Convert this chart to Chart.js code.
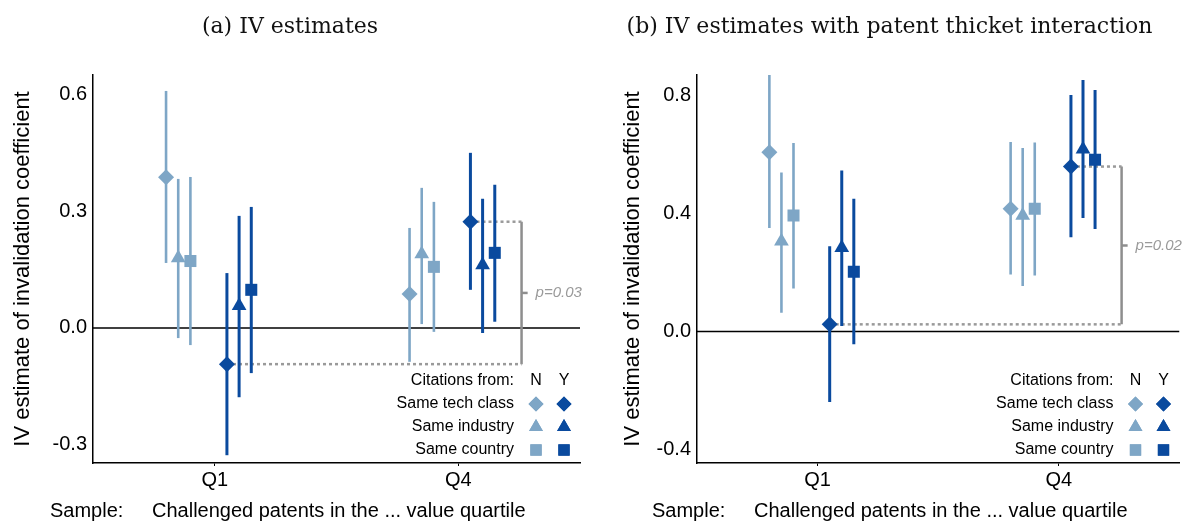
<!DOCTYPE html>
<html>
<head>
<meta charset="utf-8">
<script src="https://cdn.jsdelivr.net/npm/chart.js@4.4.0/dist/chart.umd.min.js"></script>
<style>
  body { margin: 0; background: #fff; }
  #wrap { position: relative; width: 1188px; height: 523px; }
  #wrap canvas { position: absolute; top: 0; }
</style>
</head>
<body>
<div id="wrap">
  <canvas id="chartA" width="594" height="523" style="left:0"></canvas>
  <canvas id="chartB" width="594" height="523" style="left:594px"></canvas>
</div>
<script>
// Data
const quartiles = ['Q1', 'Q4'];
const quartilePos = [1, 3];
const rowNames = ['Same tech class', 'Same industry', 'Same country'];
const citeGroups = ['N', 'Y'];

// rows: tech N, industry N, country N, tech Y, industry Y, country Y / columns: Q1, Q4
const estA = [[0.387, 0.087], [0.180, 0.190], [0.172, 0.157], [-0.093, 0.273], [0.057, 0.162], [0.098, 0.193]];
const loA  = [[0.167, -0.087], [-0.026, 0.010], [-0.044, -0.010], [-0.327, 0.098], [-0.178, -0.013], [-0.116, 0.016]];
const hiA  = [[0.609, 0.257], [0.383, 0.360], [0.388, 0.324], [0.141, 0.450], [0.288, 0.332], [0.311, 0.368]];

const estB = [[0.609, 0.417], [0.306, 0.394], [0.394, 0.417], [0.024, 0.560], [0.284, 0.619], [0.203, 0.583]];
const loB  = [[0.351, 0.193], [0.063, 0.154], [0.146, 0.190], [-0.240, 0.320], [0.018, 0.385], [-0.044, 0.348]];
const hiB  = [[0.880, 0.643], [0.540, 0.623], [0.640, 0.642], [0.289, 0.803], [0.547, 0.854], [0.451, 0.820]];

const ticksA = [-0.3, 0, 0.3, 0.6];
const ticksB = [-0.4, 0, 0.4, 0.8];
const pValA = 'p=0.03';
const pValB = 'p=0.02';

// Styles
const LIGHT = '#7ea6c6';
const DARK = '#0a4a9e';
const GREY = '#8e8e8e';
const shapes = ['rectRot', 'triangle', 'rect'];
const radii = [8, 8.5, 8.5];
const offsets = [-0.4, -0.3, -0.2, 0.1, 0.2, 0.3];
const SANS = "'Liberation Sans', Arial, sans-serif";
const SERIF = "'DejaVu Serif', serif";

Chart.defaults.color = '#000';

const extras = {
  id: 'extras',
  afterDraw(chart, args, opts) {
    const { ctx, chartArea: ca, scales } = chart;
    const xs = scales.x, ys = scales.y;
    ctx.save();

    // p-value label next to the bracket
    const mid = (opts.est[3][0] + opts.est[3][1]) / 2;
    ctx.font = 'italic 15px ' + SANS;
    ctx.fillStyle = '#9a9a9a';
    ctx.textAlign = 'left';
    ctx.textBaseline = 'middle';
    ctx.fillText(opts.pText, xs.getPixelForValue(opts.bracketX) + 14, ys.getPixelForValue(mid));

    // legend
    const colX = [ca.right - 44, ca.right - 16];
    const rowY = [ca.bottom - 82, ca.bottom - 59, ca.bottom - 36, ca.bottom - 13];
    ctx.font = '16px ' + SANS;
    ctx.fillStyle = '#000';
    ctx.textAlign = 'right';
    ctx.fillText('Citations from:', ca.right - 66, rowY[0]);
    ctx.textAlign = 'center';
    citeGroups.forEach((g, j) => ctx.fillText(g, colX[j], rowY[0]));
    rowNames.forEach((name, r) => {
      ctx.textAlign = 'right';
      ctx.fillStyle = '#000';
      ctx.fillText(name, ca.right - 66, rowY[r + 1]);
      [LIGHT, DARK].forEach((c, j) => {
        ctx.fillStyle = c;
        Chart.helpers.drawPoint(ctx, { pointStyle: shapes[r], radius: radii[r] - 0.5, rotation: 0, borderWidth: 0 }, colX[j], rowY[r + 1]);
        ctx.fill();
      });
    });

    // sample caption
    ctx.font = '20px ' + SANS;
    ctx.fillStyle = '#000';
    ctx.textAlign = 'left';
    ctx.fillText('Sample:', opts.sampleX, 511);
    ctx.fillText('Challenged patents in the ... value quartile', opts.sampleX + 102, 511);
    ctx.restore();
  }
};

function makeChart(id, p) {
  const datasets = [];
  const bx = 3.52;

  // zero line
  datasets.push({ data: [{ x: 0, y: 0 }, { x: 4, y: 0 }], showLine: true, borderColor: '#000', borderWidth: 1.5, pointRadius: 0, order: 5 });

  // bracket between Y tech-class estimates in Q1 and Q4
  const y1 = p.est[3][0], y4 = p.est[3][1];
  const mid = (y1 + y4) / 2;
  quartilePos.forEach((q, i) => {
    datasets.push({
      data: [{ x: q + offsets[3] + 0.05, y: p.est[3][i] }, { x: bx, y: p.est[3][i] }],
      showLine: true, borderColor: '#9a9a9a', borderWidth: 2.5, borderDash: [3, 3], pointRadius: 0, order: 4
    });
  });
  datasets.push({ data: [{ x: bx, y: y4 }, { x: bx, y: y1 }], showLine: true, borderColor: GREY, borderWidth: 2.5, pointRadius: 0, order: 4 });
  datasets.push({ data: [{ x: bx, y: mid }, { x: bx + 0.05, y: mid }], showLine: true, borderColor: GREY, borderWidth: 2.5, pointRadius: 0, order: 4 });

  // confidence intervals and point estimates
  p.est.forEach((row, r) => {
    const color = r < 3 ? LIGHT : DARK;
    quartilePos.forEach((q, i) => {
      datasets.push({
        data: [{ x: q + offsets[r], y: p.lo[r][i] }, { x: q + offsets[r], y: p.hi[r][i] }],
        showLine: true, borderColor: color, borderWidth: r < 3 ? 2.6 : 3, pointRadius: 0, order: 2
      });
    });
    datasets.push({
      data: quartilePos.map((q, i) => ({ x: q + offsets[r], y: row[i] })),
      pointStyle: shapes[r % 3], pointRadius: radii[r % 3], pointBackgroundColor: color,
      pointBorderWidth: 0, order: 0
    });
  });

  return new Chart(document.getElementById(id), {
    type: 'scatter',
    data: { datasets },
    options: {
      responsive: false,
      animation: false,
      events: [],
      layout: { padding: { left: 0, right: p.padRight, top: 0, bottom: 0 } },
      plugins: {
        legend: { display: false },
        tooltip: { enabled: false },
        title: {
          display: true, text: p.title, color: '#111',
          font: { family: SERIF, size: 22, weight: 'normal' },
          padding: { top: 13.8, bottom: 34.8 }
        },
        extras: { est: p.est, pText: p.pText, bracketX: bx, sampleX: p.sampleX }
      },
      scales: {
        x: {
          type: 'linear', min: 0, max: 4,
          afterBuildTicks: s => { s.ticks = quartilePos.map(v => ({ value: v })); },
          afterFit: s => { s.height = 60; },
          ticks: { callback: v => quartiles[quartilePos.indexOf(v)], font: { family: SANS, size: 20 }, padding: 2, maxRotation: 0 },
          grid: { display: true, drawOnChartArea: false, drawTicks: true, tickLength: 3, color: '#000' },
          border: { display: true, color: '#000', width: 1.5 }
        },
        y: {
          min: p.yMin, max: p.yMax,
          afterBuildTicks: s => { s.ticks = p.ticks.map(v => ({ value: v })); },
          afterFit: s => { s.width = p.chartLeft; },
          ticks: { callback: v => v.toFixed(1), font: { family: SANS, size: 20 }, padding: 6 },
          grid: { display: false, drawTicks: false },
          border: { display: true, color: '#000', width: 1.5 },
          title: {
            display: true, text: 'IV estimate of invalidation coefficient',
            font: { family: SANS, size: 22 }, padding: { top: p.titlePad, bottom: 0 }
          }
        }
      }
    },
    plugins: [extras]
  });
}

makeChart('chartA', {
  est: estA, lo: loA, hi: hiA, ticks: ticksA, yMin: -0.347, yMax: 0.650,
  title: '(a) IV estimates', pText: pValA,
  chartLeft: 93, padRight: 14, titlePad: 10, sampleX: 50
});
makeChart('chartB', {
  est: estB, lo: loB, hi: hiB, ticks: ticksB, yMin: -0.447, yMax: 0.871,
  title: '(b) IV estimates with patent thicket interaction', pText: pValB,
  chartLeft: 103, padRight: 3, titlePad: 26, sampleX: 58
});
</script>
</body>
</html>
